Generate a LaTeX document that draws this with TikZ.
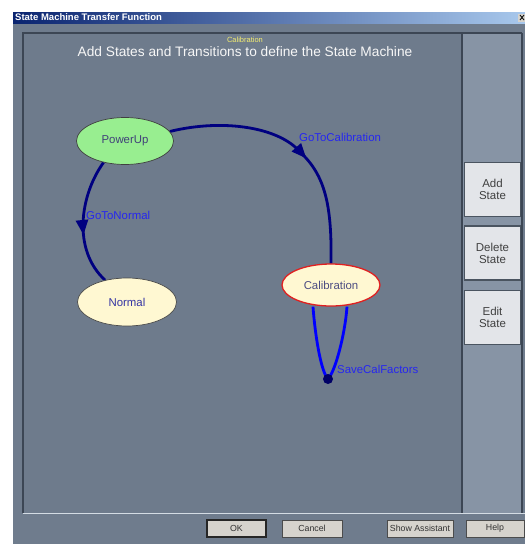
\documentclass[tikz,border=0pt]{standalone}
\usepackage{fontspec}
\setmainfont{Liberation Sans}
\usetikzlibrary{arrows.meta,decorations.markings,shapes.geometric}
\definecolor{winbg}{HTML}{6F7C8D}
\definecolor{canvasc}{HTML}{6E7B8C}
\definecolor{panelc}{HTML}{8794A5}
\definecolor{darkline}{HTML}{3C4654}
\definecolor{lightline}{HTML}{D4DCE4}
\definecolor{titleL}{HTML}{0A2470}
\definecolor{titleR}{HTML}{A8C8EC}
\definecolor{navyc}{HTML}{000080}
\definecolor{loopc}{HTML}{0000FF}
\definecolor{labelc}{HTML}{2626F0}
\definecolor{greenfill}{HTML}{98EE90}
\definecolor{creamfill}{HTML}{FFF8D2}
\definecolor{sidebtn}{HTML}{E3E5E9}
\definecolor{sidebord}{HTML}{4A5460}
\definecolor{botbtn}{HTML}{D6D3CD}
\definecolor{calred}{HTML}{E02020}
\pgfdeclarelayer{back}
\pgfdeclarelayer{edges}
\pgfsetlayers{back,edges,main}
\tikzset{
  statenode/.style={ellipse, inner sep=0pt, font=\fontsize{11.4}{13}\selectfont},
  edgelabel/.style={anchor=west, inner sep=0pt, text=labelc, font=\fontsize{11.4}{13}\selectfont},
  transedge/.style={draw=navyc, line width=2.8pt},
  sidebutton/.style={draw=sidebord, line width=1.2pt, fill=sidebtn, minimum width=56pt, minimum height=54pt, inner sep=0pt, align=center, text=black!75, font=\fontsize{11.5}{12}\selectfont},
  botbutton/.style={draw=black!70, line width=0.9pt, fill=botbtn, minimum height=17pt, inner sep=0pt, text=black!80, font=\fontsize{8.8}{10}\selectfont},
  midarrow/.style={postaction={decorate}, decoration={markings, mark=at position #1 with {\arrow[navyc]{Triangle[length=15pt,width=12pt]}}}}
}
\begin{document}
\begin{tikzpicture}[x=1pt,y=-1pt]
\useasboundingbox (0,0) rectangle (525,544);
\begin{pgfonlayer}{back}
\fill[white] (0,0) rectangle (525,544);
\fill[winbg] (13,12) rectangle (525,544);
\shade[left color=titleL, right color=titleR] (13,12) rectangle (525,23);
\fill[botbtn] (518,13.5) rectangle (526,21.5);
\draw[black, line width=0.8pt] (520,15) -- (524,20) (524,15) -- (520,20);
\fill[canvasc] (23,33) rectangle (462,513);
\fill[panelc] (462,33) rectangle (522,513);
\draw[darkline, line width=1.6pt] (23,513) -- (23,33) -- (522,33);
\draw[darkline, line width=2pt] (462,33) -- (462,513);
\draw[darkline, line width=1.2pt] (522,33) -- (522,513);
\draw[lightline, line width=1.6pt] (23,513.5) -- (525,513.5);
\end{pgfonlayer}

\node[anchor=west, text=white, inner sep=0pt, font=\bfseries\fontsize{9.5}{10}\selectfont] (title) at (15,17.5) {State Machine Transfer Function};
\node[inner sep=0pt, text=yellow!60!white!90!gray, font=\fontsize{7.5}{8}\selectfont] (sub) at (245,40) {Calibration};
\node[inner sep=0pt, text=white!94!gray, font=\fontsize{13.7}{15}\selectfont] (head) at (245,52) {Add States and Transitions to define the State Machine};

\node[statenode, fill=greenfill, draw=black!75, line width=0.7pt, minimum width=97pt, minimum height=47pt, text=blue!30!black!75] (pu) at (125,141) {PowerUp};
\node[statenode, fill=creamfill, draw=black!70, line width=0.7pt, minimum width=99pt, minimum height=48pt, text=blue!55!black!80] (norm) at (127,302) {Normal};
\node[statenode, fill=creamfill, draw=calred, line width=1.3pt, minimum width=98pt, minimum height=42pt, text=blue!30!black!70] (cal) at (331,285) {Calibration};
\node[circle, fill=navyc!80!black, minimum size=10pt, inner sep=0pt] (dot) at (328,379) {};

\begin{pgfonlayer}{edges}
\draw[transedge, midarrow=0.57] (pu.12) .. controls (225,118) and (280,128) .. (300,152) .. controls (325,175) and (332,205) .. (cal.north);
\draw[transedge, midarrow=0.6] (pu.-135) .. controls (80,195) and (72,250) .. (norm.135);
\draw[loopc, line width=2.8pt] ([xshift=-18pt]cal.south) .. controls (315,335) and (321,372) .. (dot.center) .. controls (335,372) and (345,335) .. ([xshift=16pt]cal.south);
\end{pgfonlayer}

\node[edgelabel] (l1) at (299,137) {GoToCalibration};
\node[edgelabel] (l2) at (86,215) {GoToNormal};
\node[edgelabel] (l3) at (337,369) {SaveCalFactors};

\node[sidebutton] (add) at (492.5,189.5) {Add\\State};
\node[sidebutton] (del) at (492.5,253) {Delete\\State};
\node[sidebutton] (edit) at (492.5,317.5) {Edit\\State};

\node[botbutton, minimum width=59pt, line width=1.5pt, draw=black!85] (ok) at (236.5,528.5) {OK};
\node[botbutton, minimum width=60pt] (cancel) at (312,528.5) {Cancel};
\node[botbutton, minimum width=66pt] (assist) at (420,528.5) {Show Assistant};
\node[botbutton, minimum width=58pt] (help) at (495,528.5) {Help};
\end{tikzpicture}
\end{document}
